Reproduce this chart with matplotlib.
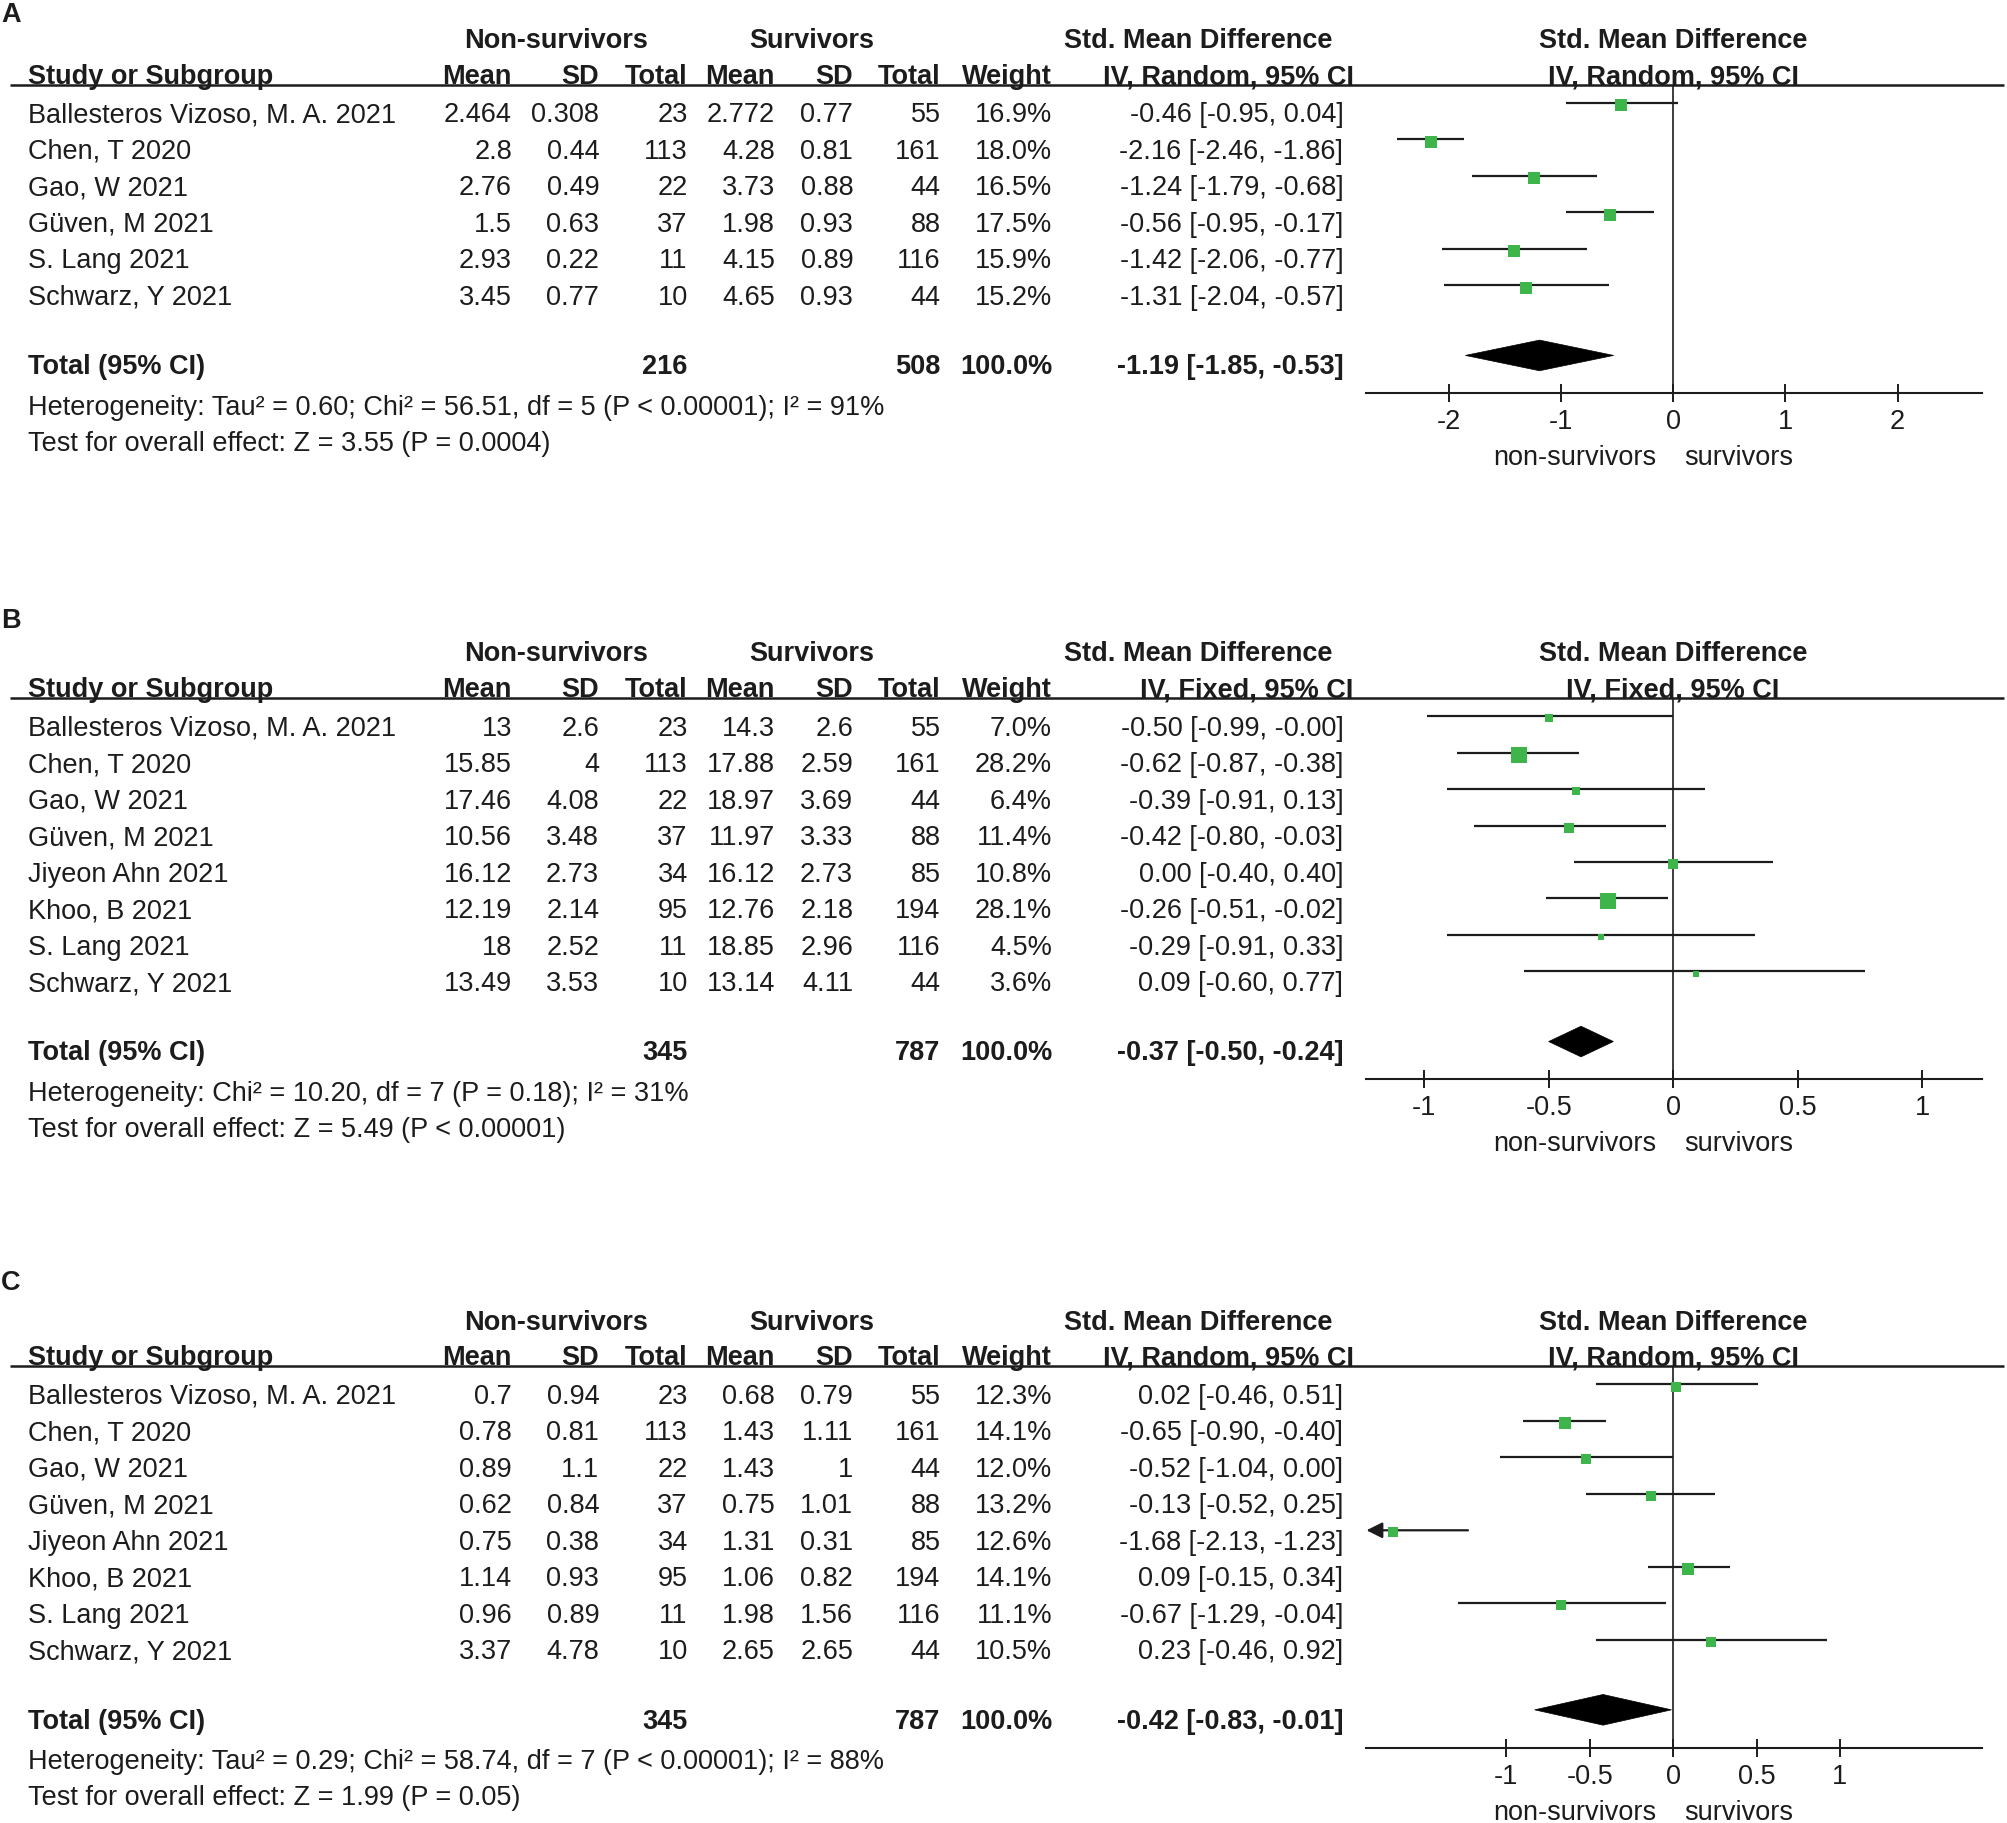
import matplotlib
matplotlib.use('Agg')
import matplotlib.pyplot as plt
from matplotlib.patches import Polygon

plt.rcParams['font.family'] = ['Liberation Sans', 'DejaVu Sans']
plt.rcParams['axes.unicode_minus'] = False

# ---------------- data ----------------
studies_A = ["Ballesteros Vizoso, M. A. 2021", "Chen, T 2020", "Gao, W 2021",
             "Güven, M 2021", "S. Lang 2021", "Schwarz, Y 2021"]
mean1_A = [2.464, 2.8, 2.76, 1.5, 2.93, 3.45]
sd1_A = [0.308, 0.44, 0.49, 0.63, 0.22, 0.77]
n1_A = [23, 113, 22, 37, 11, 10]
mean2_A = [2.772, 4.28, 3.73, 1.98, 4.15, 4.65]
sd2_A = [0.77, 0.81, 0.88, 0.93, 0.89, 0.93]
n2_A = [55, 161, 44, 88, 116, 44]
weight_A = [16.9, 18.0, 16.5, 17.5, 15.9, 15.2]
smd_A = [-0.46, -2.16, -1.24, -0.56, -1.42, -1.31]
lo_A = [-0.95, -2.46, -1.79, -0.95, -2.06, -2.04]
hi_A = [0.04, -1.86, -0.68, -0.17, -0.77, -0.57]
total_A = [216, 508, -1.19, -1.85, -0.53]
het_A = "Heterogeneity: Tau² = 0.60; Chi² = 56.51, df = 5 (P < 0.00001); I² = 91%"
test_A = "Test for overall effect: Z = 3.55 (P = 0.0004)"
ticks_A = [-2, -1, 0, 1, 2]
ticklabels_A = ["-2", "-1", "0", "1", "2"]

studies_BC = ["Ballesteros Vizoso, M. A. 2021", "Chen, T 2020", "Gao, W 2021",
              "Güven, M 2021", "Jiyeon Ahn 2021", "Khoo, B 2021", "S. Lang 2021",
              "Schwarz, Y 2021"]
n1_BC = [23, 113, 22, 37, 34, 95, 11, 10]
n2_BC = [55, 161, 44, 88, 85, 194, 116, 44]

mean1_B = [13, 15.85, 17.46, 10.56, 16.12, 12.19, 18, 13.49]
sd1_B = [2.6, 4, 4.08, 3.48, 2.73, 2.14, 2.52, 3.53]
mean2_B = [14.3, 17.88, 18.97, 11.97, 16.12, 12.76, 18.85, 13.14]
sd2_B = [2.6, 2.59, 3.69, 3.33, 2.73, 2.18, 2.96, 4.11]
weight_B = [7.0, 28.2, 6.4, 11.4, 10.8, 28.1, 4.5, 3.6]
smd_B = [-0.50, -0.62, -0.39, -0.42, 0.00, -0.26, -0.29, 0.09]
lo_B = [-0.99, -0.87, -0.91, -0.80, -0.40, -0.51, -0.91, -0.60]
hi_B = [-0.0, -0.38, 0.13, -0.03, 0.40, -0.02, 0.33, 0.77]
total_B = [345, 787, -0.37, -0.50, -0.24]
het_B = "Heterogeneity: Chi² = 10.20, df = 7 (P = 0.18); I² = 31%"
test_B = "Test for overall effect: Z = 5.49 (P < 0.00001)"

mean1_C = [0.7, 0.78, 0.89, 0.62, 0.75, 1.14, 0.96, 3.37]
sd1_C = [0.94, 0.81, 1.1, 0.84, 0.38, 0.93, 0.89, 4.78]
mean2_C = [0.68, 1.43, 1.43, 0.75, 1.31, 1.06, 1.98, 2.65]
sd2_C = [0.79, 1.11, 1, 1.01, 0.31, 0.82, 1.56, 2.65]
weight_C = [12.3, 14.1, 12.0, 13.2, 12.6, 14.1, 11.1, 10.5]
smd_C = [0.02, -0.65, -0.52, -0.13, -1.68, 0.09, -0.67, 0.23]
lo_C = [-0.46, -0.90, -1.04, -0.52, -2.13, -0.15, -1.29, -0.46]
hi_C = [0.51, -0.40, 0.00, 0.25, -1.23, 0.34, -0.04, 0.92]
total_C = [345, 787, -0.42, -0.83, -0.01]
het_C = "Heterogeneity: Tau² = 0.29; Chi² = 58.74, df = 7 (P < 0.00001); I² = 88%"
test_C = "Test for overall effect: Z = 1.99 (P = 0.05)"
ticks_BC = [-1, -0.5, 0, 0.5, 1]
ticklabels_BC = ["-1", "-0.5", "0", "0.5", "1"]

# ---------------- layout ----------------
W, H = 1565.0, 1422.0
fig = plt.figure(figsize=(20.08, 18.24), dpi=100)
ov = fig.add_axes([0, 0, 1, 1])
ov.set_xlim(0, W)
ov.set_ylim(H, 0)
ov.axis('off')

FS = 19.5
TXT = '#1c1c1c'
GREEN = '#3db54a'


def T(x, y, s, ha='left', bold=False, size=FS):
    ov.text(x, y + 7.5, s, ha=ha, va='baseline', fontsize=size,
            fontweight='bold' if bold else 'normal', color=TXT)


COLS = [399, 467, 536, 604, 665, 733, 820]
X_CI = 1047
X0 = 1304
AX_L, AX_R = 1065, 1545


def panel(letter, label_y, h1, studies, m1, s1, n1, m2, s2, n2, w, smd, lo, hi,
          total, method, het, test, ticks, ticklabels, ppu, msmax):
    step = 28.45
    h2 = h1 + 28
    rule = h1 + 37
    row0 = h1 + 58
    n = len(studies)
    total_y = row0 + (n - 1) * step + 54
    het_y = total_y + 31.5
    test_y = het_y + 28
    axis_y = total_y + 23
    ns_y = axis_y + 48

    ov.text(1, label_y + 7.5, letter, ha='left', va='baseline', fontsize=19.5,
            fontweight='bold', color=TXT)
    # header row 1
    T(433, h1, "Non-survivors", ha='center', bold=True)
    T(633, h1, "Survivors", ha='center', bold=True)
    T(934, h1, "Std. Mean Difference", ha='center', bold=True)
    T(X0, h1, "Std. Mean Difference", ha='center', bold=True)
    # header row 2
    T(22, h2, "Study or Subgroup", bold=True)
    for x, s in zip(COLS, ["Mean", "SD", "Total", "Mean", "SD", "Total", "Weight"]):
        T(x, h2, s, ha='right', bold=True)
    T(1055, h2, f"IV, {method}, 95% CI", ha='right', bold=True)
    T(X0, h2, f"IV, {method}, 95% CI", ha='center', bold=True)
    ov.plot([8, 1562], [rule, rule], color=TXT, lw=1.8, solid_capstyle='butt')

    for i in range(n):
        y = row0 + i * step
        T(22, y, studies[i])
        vals = [f"{m1[i]:g}", f"{s1[i]:g}", f"{n1[i]}", f"{m2[i]:g}", f"{s2[i]:g}",
                f"{n2[i]}", f"{w[i]:.1f}%"]
        for x, s in zip(COLS, vals):
            T(x, y, s, ha='right')
        T(X_CI, y, f"{smd[i]:.2f} [{lo[i]:.2f}, {hi[i]:.2f}]", ha='right')

    T(22, total_y, "Total (95% CI)", bold=True)
    T(COLS[2], total_y, f"{total[0]}", ha='right', bold=True)
    T(COLS[5], total_y, f"{total[1]}", ha='right', bold=True)
    T(COLS[6], total_y, "100.0%", ha='right', bold=True)
    T(X_CI, total_y, f"{total[2]:.2f} [{total[3]:.2f}, {total[4]:.2f}]", ha='right', bold=True)
    T(22, het_y, het)
    T(22, test_y, test)
    T(1291, ns_y, "non-survivors", ha='right')
    T(1313, ns_y, "survivors", ha='left')

    # forest axes
    m0 = row0 - 7
    ax = fig.add_axes([AX_L / W, 1 - axis_y / H, (AX_R - AX_L) / W, (axis_y - rule) / H])
    ax.patch.set_alpha(0)
    xmin, xmax = (AX_L - X0) / ppu, (AX_R - X0) / ppu
    ax.set_xlim(xmin, xmax)
    ax.set_ylim((axis_y - m0) / step, (rule - m0) / step)
    for sp in ['top', 'left', 'right']:
        ax.spines[sp].set_visible(False)
    ax.spines['bottom'].set_linewidth(1.5)
    ax.spines['bottom'].set_color(TXT)
    ax.set_yticks([])
    ax.set_xticks(ticks)
    ax.set_xticklabels(ticklabels)
    ax.tick_params(axis='x', direction='inout', length=12.7, width=1.4, pad=4.5,
                   labelsize=FS, colors=TXT)
    ax.axvline(0, color=TXT, lw=1.2, zorder=1)
    wmax = max(w)
    for i in range(n):
        if lo[i] < xmin:
            ax.annotate('', xy=(xmin, i), xytext=(hi[i], i),
                        arrowprops=dict(arrowstyle='-|>', color=TXT, lw=1.6,
                                        mutation_scale=24, shrinkA=0, shrinkB=0),
                        zorder=2)
        else:
            ax.plot([lo[i], hi[i]], [i, i], color=TXT, lw=1.6, zorder=2,
                    solid_capstyle='butt')
        ms = msmax * (w[i] / wmax) ** 0.5
        ax.plot(smd[i], i + 0.06, marker='s', ms=ms, color=GREEN, mec=GREEN,
                mew=0, zorder=3)
    yt = n + 0.92
    dh = 0.42
    ax.add_patch(Polygon([(total[3], yt), (total[2], yt - dh), (total[4], yt),
                          (total[2], yt + dh)], closed=True, fc='black', ec='black',
                         lw=0.5, zorder=3))


panel("A", 10, 30, studies_A, mean1_A, sd1_A, n1_A, mean2_A, sd2_A, n2_A, weight_A,
      smd_A, lo_A, hi_A, total_A, "Random", het_A, test_A, ticks_A, ticklabels_A,
      87.5, 9.2)
panel("B", 482, 508, studies_BC, mean1_B, sd1_B, n1_BC, mean2_B, sd2_B, n2_BC, weight_B,
      smd_B, lo_B, hi_B, total_B, "Fixed", het_B, test_B, ticks_BC, ticklabels_BC,
      194, 11.5)
panel("C", 998, 1029, studies_BC, mean1_C, sd1_C, n1_BC, mean2_C, sd2_C, n2_BC, weight_C,
      smd_C, lo_C, hi_C, total_C, "Random", het_C, test_C, ticks_BC, ticklabels_BC,
      130, 8.0)

fig.savefig("out.png", dpi=100, facecolor='white')
